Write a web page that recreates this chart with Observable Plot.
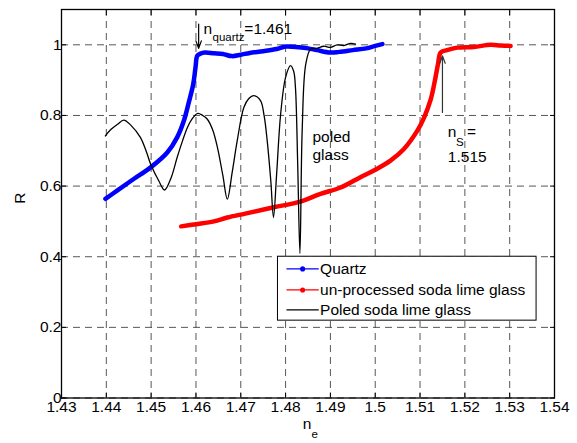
<!DOCTYPE html>
<html><head><meta charset="utf-8">
<script src="https://cdn.jsdelivr.net/npm/d3@7"></script>
<script src="https://cdn.jsdelivr.net/npm/@observablehq/plot@0.6"></script>
<style>body{margin:0;background:#fff}</style>
</head><body><div id="chart"></div>
<script>
// ---- data ----
const quartzN = [1.4398,1.4424,1.4461,1.4499,1.4536,1.4558,1.4573,1.4584,1.4594,1.4599,1.4603,1.4610,1.4620,1.4640,1.4660,1.4680,1.4700,1.4720,1.4750,1.4780,1.4800,1.4830,1.4850,1.4870,1.4900,1.4920,1.4950,1.4980,1.5000,1.5016];
const quartzR = [0.564,0.587,0.620,0.653,0.695,0.738,0.785,0.837,0.889,0.936,0.969,0.975,0.978,0.976,0.974,0.968,0.972,0.977,0.982,0.988,0.995,0.993,0.990,0.985,0.978,0.980,0.985,0.990,0.997,1.002];

const sodaN = [1.4567,1.4600,1.4640,1.4670,1.4710,1.4774,1.4833,1.4878,1.4923,1.4967,1.4997,1.5034,1.5064,1.5094,1.5109,1.5124,1.5133,1.5140,1.5146,1.5160,1.5183,1.5220,1.5258,1.5280,1.5302];
const sodaR = [0.486,0.492,0.500,0.511,0.522,0.540,0.556,0.578,0.596,0.625,0.644,0.672,0.705,0.757,0.794,0.846,0.898,0.945,0.978,0.985,0.992,0.994,1.000,0.998,0.997];

const poledN = [1.4398,1.4410,1.4425,1.4439,1.4455,1.4476,1.4490,1.4499,1.4517,1.4530,1.4545,1.4558,1.4570,1.4581,1.4593,1.4604,1.4615,1.4625,1.4637,1.4648,1.4660,1.4670,1.4681,1.4692,1.4707,1.4718,1.4729,1.4744,1.4752,1.4759,1.4767,1.4773,1.4780,1.4789,1.4800,1.4811,1.4818,1.4822,1.4827,1.4832,1.4837,1.4845,1.4856,1.4870,1.4885,1.4900,1.4915,1.4930,1.4945,1.4956];
const poledR = [0.742,0.760,0.775,0.787,0.772,0.738,0.695,0.662,0.615,0.589,0.625,0.681,0.728,0.766,0.793,0.806,0.800,0.790,0.760,0.709,0.630,0.563,0.640,0.728,0.823,0.848,0.856,0.842,0.800,0.728,0.615,0.511,0.634,0.804,0.908,0.941,0.925,0.879,0.663,0.409,0.757,0.945,0.988,0.990,0.996,0.993,1.000,0.998,1.004,1.002];

const seriesNames = ["Quartz", "un-processed soda lime glass", "Poled soda lime glass"];
const seriesColors = ["#0000ff", "#ff0000", "#000000"];

const xTicks = [1.43,1.44,1.45,1.46,1.47,1.48,1.49,1.50,1.51,1.52,1.53,1.54];
const yTicks = [0,0.2,0.4,0.6,0.8,1];
const xTickLabels = ["1.43","1.44","1.45","1.46","1.47","1.48","1.49","1.5","1.51","1.52","1.53","1.54"];
const yTickLabels = ["0","0.2","0.4","0.6","0.8","1"];

// ---- tables ----
const quartz = quartzN.map((n, i) => ({n, R: quartzR[i]}));
const soda = sodaN.map((n, i) => ({n, R: sodaR[i]}));
const poled = poledN.map((n, i) => ({n, R: poledR[i]}));

const legendRows = seriesNames.map((name, i) => ({name, color: seriesColors[i], y: [0.3655, 0.306, 0.2495][i], dot: i < 2}));

const FONT = "'Liberation Sans', Arial, Helvetica, sans-serif";
const FS = 15.5, FSS = 11.5;
const gridStyle = {stroke: "#444", strokeOpacity: 1, strokeWidth: 0.9, strokeDasharray: "7,5"};

const plot = Plot.plot({
  width: 577, height: 443,
  marginLeft: 61, marginRight: 23, marginTop: 9, marginBottom: 45.5,
  style: {fontFamily: FONT, fontSize: FS + "px", background: "white", color: "black", overflow: "visible"},
  x: {domain: [1.43, 1.54]},
  y: {domain: [0, 1.1]},
  marks: [
    Plot.gridX(xTicks, gridStyle),
    Plot.gridY(yTicks, gridStyle),
    // data series
    Plot.line(quartz, {x: "n", y: "R", stroke: seriesColors[0], strokeWidth: 4.5, strokeLinejoin: "round", strokeLinecap: "round", curve: "catmull-rom"}),
    Plot.line(soda, {x: "n", y: "R", stroke: seriesColors[1], strokeWidth: 4.5, strokeLinejoin: "round", strokeLinecap: "round", curve: "catmull-rom"}),
    Plot.line(poled, {x: "n", y: "R", stroke: seriesColors[2], strokeWidth: 1.3, curve: "catmull-rom"}),
    // annotations
    Plot.arrow([0], {x1: 1.4606, y1: 1.059, x2: 1.4606, y2: 0.99, stroke: "black", strokeWidth: 1.2, headLength: 10, headAngle: 40}),
    Plot.text(["n"], {x: 1.4617, y: 1.045, textAnchor: "start", fontSize: FS}),
    Plot.text(["quartz"], {x: 1.4637, y: 1.021, textAnchor: "start", fontSize: FSS}),
    Plot.text(["=1.461"], {x: 1.4708, y: 1.045, textAnchor: "start", fontSize: FS}),
    Plot.arrow([0], {x1: 1.515, y1: 0.8085, x2: 1.515, y2: 0.969, stroke: "#333", strokeWidth: 1.2, headLength: 10, headAngle: 40}),
    Plot.text(["n"], {x: 1.5162, y: 0.752, textAnchor: "start", fontSize: FS}),
    Plot.text(["S"], {x: 1.5180, y: 0.724, textAnchor: "start", fontSize: FSS}),
    Plot.text(["="], {x: 1.5205, y: 0.752, textAnchor: "start", fontSize: FS}),
    Plot.text(["1.515"], {x: 1.5162, y: 0.681, textAnchor: "start", fontSize: FS}),
    Plot.text(["poled"], {x: 1.486, y: 0.74, textAnchor: "start", fontSize: FS}),
    Plot.text(["glass"], {x: 1.486, y: 0.689, textAnchor: "start", fontSize: FS}),
    // legend
    Plot.rect([0], {x1: 1.4783, x2: 1.5360, y1: 0.219, y2: 0.400, fill: "white", stroke: "black", strokeWidth: 1}),
    Plot.link(legendRows, {x1: 1.4802, x2: 1.4874, y1: "y", y2: "y", stroke: "color", strokeWidth: 1.2}),
    Plot.dot(legendRows.filter(d => d.dot), {x: 1.4838, y: "y", r: 1.8, fill: "color", stroke: "color"}),
    Plot.text(legendRows, {x: 1.4877, y: "y", text: "name", textAnchor: "start", fontSize: FS}),
    // frame & axes (ticks inward)
    Plot.frame({stroke: "black", strokeWidth: 1.3}),
    Plot.axisX(xTicks, {anchor: "bottom", tickSize: -5, tickPadding: 8, tickFormat: (d, i) => xTickLabels[i], label: null, fontSize: FS}),
    Plot.axisX(xTicks, {anchor: "top", tickSize: -5, tickFormat: () => "", label: null}),
    Plot.axisY(yTicks, {anchor: "left", tickSize: -5, tickPadding: 5, tickFormat: (d, i) => yTickLabels[i], label: null, fontSize: FS}),
    Plot.axisY(yTicks, {anchor: "right", tickSize: -5, tickFormat: () => "", label: null}),
    // axis titles
    Plot.text(["R"], {frameAnchor: "left", dx: -41, rotate: -90, fontSize: FS}),
    Plot.text(["n"], {frameAnchor: "bottom", dx: -1, dy: 31, fontSize: FS}),
    Plot.text(["e"], {frameAnchor: "bottom", textAnchor: "start", dx: 3.5, dy: 39.5, fontSize: FSS})
  ]
});
document.getElementById("chart").appendChild(plot);
</script>
</body></html>
